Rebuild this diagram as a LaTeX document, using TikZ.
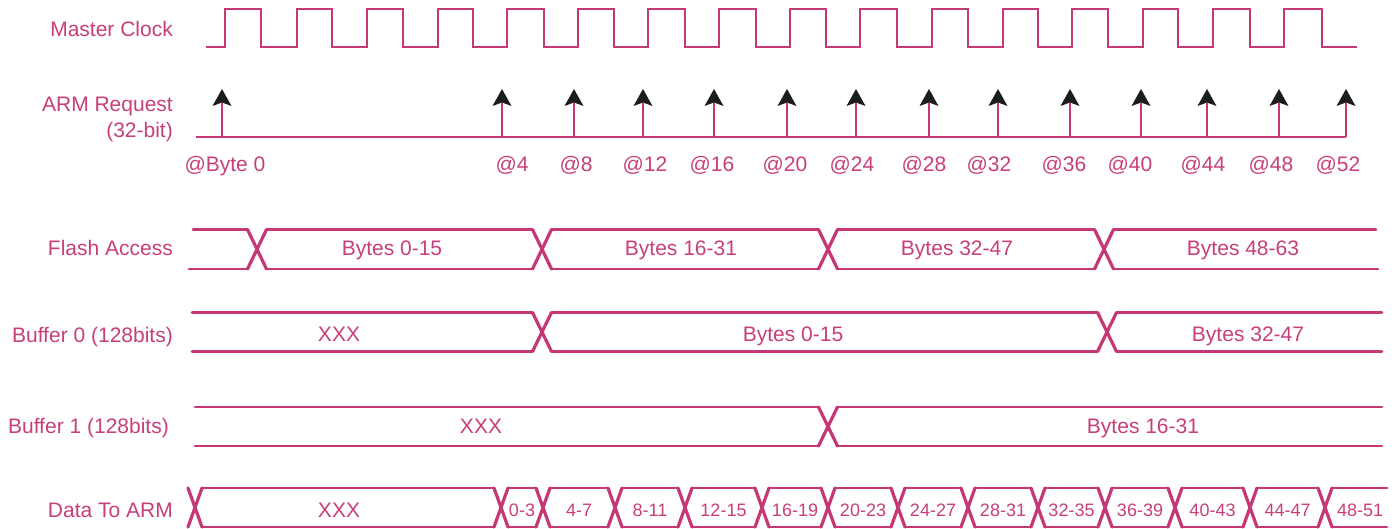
\documentclass[tikz,border=0pt]{standalone}
\usepackage{fontspec}
\setmainfont{Liberation Sans}
\definecolor{pinkline}{RGB}{197,55,117}
\definecolor{pinktext}{RGB}{200,62,122}
\definecolor{headc}{RGB}{28,28,28}
\begin{document}
\begin{tikzpicture}[x=1pt,y=-1pt,
  sig/.style={draw=pinkline,line width=2.5pt,line join=miter,line cap=butt},
  busl/.style={draw=pinkline,line width=2.6pt,line cap=round,line join=round},
  crossl/.style={draw=pinkline,line width=3.2pt,line cap=round},
  lbl/.style={text=pinktext,font=\fontsize{21}{25}\selectfont,inner sep=0pt,anchor=base east,align=right},
  txt/.style={text=pinktext,font=\fontsize{21}{25}\selectfont,inner sep=0pt,anchor=base},
  stxt/.style={text=pinktext,font=\fontsize{18}{22}\selectfont,inner sep=0pt,anchor=base}]
\useasboundingbox (0,0) rectangle (1399,529);

% ---- left labels
\node[lbl] (lclk) at (173,37) {Master Clock};
\node[lbl] (lreq) at (173,112) {ARM Request};
\node[lbl] (lreq2) at (173,138) {(32-bit)};
\node[lbl] (lfla) at (173,255) {Flash Access};
\node[lbl] (lb0) at (173,342) {Buffer 0 (128bits)};
\node[lbl] (lb1) at (169,433) {Buffer 1 (128bits)};
\node[lbl] (ldat) at (173,517) {Data To ARM};

% ---- master clock
\draw[sig] (206,47) foreach \r/\f in {225/261,297/332,367/403,438/473,507/544,578/614,648/685,719/756,790/826,860/897,932/968,1003/1038,1072/1108,1143/1178,1213/1250,1284/1322}
  { -- (\r,47) -- (\r,9) -- (\f,9) -- (\f,47) } -- (1357,47);

% ---- ARM request
\coordinate (rqL) at (196,137);
\coordinate (rqR) at (1346,137);
\draw[busl,line cap=butt] (rqL) -- (rqR);
\foreach \x [count=\i] in {222,502,574,643,714,787,856,929,998,1070,1141,1207,1279,1346}{
  \coordinate (rb\i) at (\x,137);
  \coordinate (rt\i) at (\x,103);
  \draw[pinkline,line width=2.5pt] (rb\i) -- (rt\i);
  \fill[headc] (\x,89) -- (\x+9.5,106) -- (\x,102.5) -- (\x-9.5,106) -- cycle;
}
\foreach \x/\t [count=\i] in {225/{@Byte 0},512/@4,576/@8,645/@12,712/@16,785/@20,852/@24,924/@28,989/@32,1064/@36,1130/@40,1203/@44,1271/@48,1338/@52}
  \node[txt] (ra\i) at (\x,172) {\t};

% ---- Flash access (T=229.5 B=269 h=9.5)
\foreach \a/\b in {257/542,542/828,828/1104}
  \draw[busl] (\a+9.5,229.5) -- (\b-9.5,229.5) (\a+9.5,269) -- (\b-9.5,269);
\draw[busl] (193,229.5) -- (247.5,229.5) (189,269) -- (247.5,269);
\draw[busl] (1113.5,229.5) -- (1376,229.5) (1113.5,269) -- (1378,269);
\foreach \c in {257,542,828,1104}
  \draw[crossl] (\c-9.5,229.5) -- (\c+9.5,269) (\c-9.5,269) -- (\c+9.5,229.5);
\node[txt] (f1) at (392,255) {Bytes 0-15};
\node[txt] (f2) at (681,255) {Bytes 16-31};
\node[txt] (f3) at (957,255) {Bytes 32-47};
\node[txt] (f4) at (1243,255) {Bytes 48-63};

% ---- Buffer 0 (T=312.5 B=351.5)
\draw[busl] (192,312.5) -- (532.5,312.5) (192,351.5) -- (532.5,351.5);
\draw[busl] (551.5,312.5) -- (1097.5,312.5) (551.5,351.5) -- (1097.5,351.5);
\draw[busl] (1116.5,312.5) -- (1382,312.5) (1116.5,351.5) -- (1382,351.5);
\foreach \c in {542,1107}
  \draw[crossl] (\c-9.5,312.5) -- (\c+9.5,351.5) (\c-9.5,351.5) -- (\c+9.5,312.5);
\node[txt] (b01) at (339,341) {XXX};
\node[txt] (b02) at (793,341) {Bytes 0-15};
\node[txt] (b03) at (1248,341) {Bytes 32-47};

% ---- Buffer 1 (T=407 B=446)
\draw[busl] (195,407) -- (818.5,407) (195,446) -- (818.5,446);
\draw[busl] (837.5,407) -- (1382,407) (837.5,446) -- (1382,446);
\draw[crossl] (818.5,407) -- (837.5,446) (818.5,446) -- (837.5,407);
\node[txt] (b11) at (481,433) {XXX};
\node[txt] (b12) at (1143,433) {Bytes 16-31};

% ---- Data to ARM (T=488 B=527 h=7)
\foreach \a/\b in {195/501,501/543,543/615,615/685,685/762,762/828,828/898,898/968,968/1038,1038/1105,1105/1175,1175/1250,1250/1325}
  \draw[busl] (\a+7,488) -- (\b-7,488) (\a+7,527) -- (\b-7,527);
\draw[busl] (1332,488) -- (1387,488) (1332,527) -- (1387,527);
\foreach \c in {195,501,543,615,685,762,828,898,968,1038,1105,1175,1250,1325}
  \draw[crossl] (\c-7,488) -- (\c+7,527) (\c-7,527) -- (\c+7,488);
\node[txt] (d0) at (339,517) {XXX};
\foreach \x/\t [count=\i] in {522/0-3,579/4-7,650/8-11,723.5/12-15,795/16-19,863/20-23,933/24-27,1003/28-31,1071.5/32-35,1140/36-39,1212.5/40-43,1287.5/44-47,1360/48-51}
  \node[stxt] (d\i) at (\x,516) {\t};
\end{tikzpicture}
\end{document}
